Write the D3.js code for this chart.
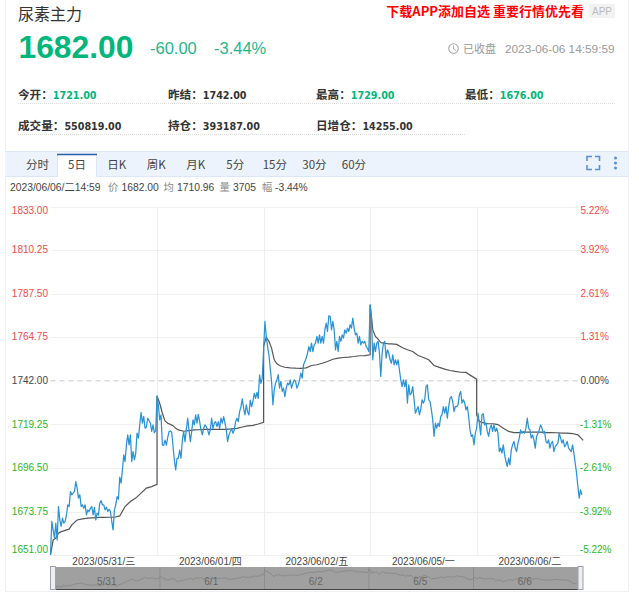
<!DOCTYPE html>
<html><head><meta charset="utf-8">
<script src="https://cdn.jsdelivr.net/npm/d3@7/dist/d3.min.js"></script>
<style>
html,body{margin:0;padding:0;background:#fff}
svg{display:block}
text{font-family:"Liberation Sans",Arial,"Noto Sans CJK SC",sans-serif}
.cjk{font-family:"Noto Sans CJK SC","Liberation Sans",sans-serif}
</style></head><body><div id="c"></div>
<script>
const title="尿素主力";
const lastPrice="1682.00", changeAbs="-60.00", changePct="-3.44%";
const statsRow1=[["今开：","1721.00"],["昨结：","1742.00"],["最高：","1729.00"],["最低：","1676.00"]];
const statsRow2=[["成交量：","550819.00"],["持仓：","393187.00"],["日增仓：","14255.00"]];
const tabs=["分时","5日","日K","周K","月K","5分","15分","30分","60分"];
const dayLabels=["2023/05/31/三","2023/06/01/四","2023/06/02/五","2023/06/05/一","2023/06/06/二"];
const navLabels=["5/31","6/1","6/2","6/5","6/6"];
const priceTicks=[1833,1810.25,1787.5,1764.75,1742,1719.25,1696.5,1673.75,1651];
const pctTicks=["5.22%","3.92%","2.61%","1.31%","0.00%","-1.31%","-2.61%","-3.92%","-5.22%"];
const refPrice=1742;

const priceDay1=[1651.2,1668.6,1664.2,1659.9,1667.7,1659,1676.4,1669.4,1666,1670.3,1667.7,1668.6,1672,1677.3,1676.4,1684.2,1682.5,1683.4,1684.2,1689.4,1686,1680.8,1682.5,1676.4,1677.3,1675.5,1677.3,1672,1674.7,1673.8,1675.5,1676.4,1672,1676,1669.4,1672.9,1672,1678.1,1679.5,1677.3,1677.3,1674.7,1676,1673.8,1675,1673.8,1668.6,1664.2,1674.7,1677.3,1681.6,1680.2,1691.7,1688.6,1695.5,1703.4,1699.9,1708.6,1713.8,1708.6,1713.8,1699.9,1705.1,1700.8,1704.2,1714.7,1712.1,1719,1725.5,1719.9,1723.4,1717.3,1717.8,1722.5,1721.3,1719.9,1715.6,1719,1715,1716];
const priceDay2=[1734.1,1729.4,1721.6,1724.2,1708.5,1708.2,1711.1,1708.5,1712.4,1715.5,1715.8,1715.2,1707.7,1700.7,1695.5,1701.6,1701.6,1705.9,1701.6,1711.1,1715.5,1710.3,1716.4,1722.5,1716.4,1710.3,1715.5,1721.6,1719,1724.2,1719.9,1724.5,1720.7,1716.4,1713.8,1717.2,1719,1718.1,1716.4,1713.8,1716.4,1722.5,1717.2,1719.9,1720.7,1718.1,1720.7,1717.2,1722.5,1719.9,1723.3,1719.9,1716.4,1710.3,1713.8,1715.5,1717.2,1714.6,1716.4,1720.7,1722.5,1720.7,1725.9,1728.5,1732.6,1727.7,1724.2,1729.4,1725.9,1724.2,1732,1728.5,1731.2,1735.5,1732.9,1736,1732.9,1745.1,1740.7,1743.3];
const priceDay3=[1758.2,1773,1765.2,1759.9,1755.6,1748.6,1741.7,1729.5,1737.3,1740.8,1742.5,1745.2,1738.2,1741.7,1736.5,1738.2,1733.8,1738.2,1740.8,1739.9,1742.5,1738.2,1740.8,1742.5,1741.7,1738.2,1739.9,1742.5,1746,1743.4,1750.4,1752.1,1753.9,1756.5,1759.9,1757.3,1761.7,1757.3,1760.8,1761.7,1765.2,1761.7,1766,1761.7,1765.2,1761.7,1768.6,1772.1,1767.8,1776,1775.6,1768.6,1773,1768.6,1758.2,1762.6,1757.3,1765.2,1762.6,1766,1764.3,1768.6,1766.9,1769.5,1767.8,1771.3,1769.5,1774.7,1769.5,1766,1766.9,1761.7,1765.2,1760.8,1762.6,1761.7,1762.6,1759.9,1759,1757.3];
const priceDay4=[1781.7,1775.6,1753,1761.7,1757.3,1761.7,1762.6,1756.5,1744.3,1756.5,1761.7,1762.6,1753.9,1758.2,1756.5,1753,1751.2,1755.6,1750.4,1753,1750.4,1753,1747.8,1742.5,1739,1742.5,1739,1742.5,1730.4,1739.9,1734.7,1735.6,1739,1732.1,1725.1,1726.9,1728.6,1724.3,1726.9,1732.1,1730.4,1732.1,1739,1739.9,1732.1,1731.2,1726.9,1721.7,1713,1719.9,1717.3,1719.9,1718.2,1723.4,1724.3,1728.6,1725.1,1728.6,1722.5,1728.6,1733,1733.8,1731.2,1726,1728.6,1728.6,1729.5,1734.7,1736.5,1730.4,1732.1,1730.4,1726.9,1728.6,1723.4,1716.4,1713,1713.8,1708.6,1714.7];
const priceDay5=[1717.3,1725.1,1719.9,1713.8,1724.3,1724.8,1719,1719.9,1715.6,1713,1717.3,1719,1715.6,1719,1715.6,1717.3,1714.7,1705.1,1706.9,1704.3,1708.6,1703.4,1699.9,1697.3,1701.7,1698.2,1706,1708.6,1710.4,1706.9,1705.1,1709.5,1712.1,1716.4,1714.7,1715.6,1714.7,1717.3,1722.5,1717.3,1716.4,1712.1,1713.8,1711.2,1706.9,1713,1714.7,1716.4,1719,1717.3,1714.7,1715.6,1710.4,1709.5,1711.2,1706.9,1709.5,1710.4,1705.1,1707.7,1708.6,1709.5,1714.7,1712.1,1709.5,1711.2,1707.7,1708.6,1710.4,1706.9,1706,1705.1,1708.6,1704.3,1699,1693.8,1686.9,1680.8,1685.1,1682.5];

const avgOffsets=[0,2,4,6,8,10,12,14,16,20,24,28,32,36,40,44,48,52,56,60,64,68,72,76,80];
const avgDay1=[1651.2,1659,1659.9,1662.5,1663.3,1663.7,1664.2,1664.6,1666.8,1669.4,1670,1670.3,1670.5,1670.7,1670.7,1670.8,1670.8,1671.5,1676.4,1679,1680.8,1683.4,1686,1686.8,1688];
const avgDay2=[1734.1,1730.3,1725.1,1721.1,1719.9,1719.3,1718.6,1717.2,1716.4,1715.7,1716,1716.4,1716.5,1716.7,1716.7,1716.7,1716.7,1716.7,1716.9,1717.2,1717.9,1718.5,1718.8,1719.5,1720.4];
const avgDay3=[1760,1764.8,1762.6,1759.1,1753,1750.9,1750,1749.5,1749.1,1748.8,1748.6,1748.5,1748.8,1750,1750.4,1751.2,1752.1,1753.3,1753.9,1754.2,1754.4,1754.7,1755.1,1755.2,1755.6];
const avgDay4=[1781.7,1768.6,1765.2,1763.8,1762,1761.7,1761.5,1761.3,1761.3,1761,1759.4,1758.2,1757.3,1755.2,1754.2,1753,1750,1749,1748.1,1747.4,1746.9,1746.5,1746.4,1744.6,1742.9];
const avgDay5=[1724.3,1720.8,1720.3,1719.9,1719.7,1719.6,1719.6,1719.4,1719.2,1717.3,1715.6,1715,1715,1715.2,1715.2,1715.2,1715.2,1715,1715,1714.9,1714.7,1714.7,1714.5,1713.8,1710.9];

const W=639,H=600;
const price=[...priceDay1,...priceDay2,...priceDay3,...priceDay4,...priceDay5];
const avgDays=[avgDay1,avgDay2,avgDay3,avgDay4,avgDay5];
const perDay=priceDay1.length;
const avg=avgDays.flatMap((day,d)=>day.map((v,i)=>({t:d*perDay+avgOffsets[i],v})));

const svg=d3.select("#c").append("svg").attr("width",W).attr("height",H);
const x=d3.scaleLinear().domain([0,perDay*5]).range([50.5,583.2]);
const y=d3.scaleLinear().domain([1651,1833]).range([555.2,206.5]);

// frame
svg.append("path").attr("d","M5.5,0V591.5H628.5V0").attr("fill","none").attr("stroke","#eef0f3");

// header
const G="#00b67a",T="#1fb68c";
svg.append("text").attr("class","cjk").attr("x",18).attr("y",20).attr("font-size",16).attr("fill","#333").text(title);
svg.append("text").attr("x",18.5).attr("y",58).attr("font-size",31.8).attr("font-weight","bold").attr("fill",G).text(lastPrice);
svg.append("text").attr("x",150).attr("y",54).attr("font-size",16.5).attr("fill",T).text(changeAbs);
svg.append("text").attr("x",214).attr("y",54).attr("font-size",16.5).attr("fill",T).text(changePct);
svg.append("text").attr("class","cjk").attr("x",584).attr("y",15.5).attr("text-anchor","end").attr("font-size",13).attr("font-weight","bold").attr("fill","#f00").text("下载APP添加自选 重要行情优先看");
svg.append("rect").attr("x",589).attr("y",4).attr("width",26).attr("height",14).attr("fill","#f2f2f2");
svg.append("text").attr("x",602).attr("y",15).attr("text-anchor","middle").attr("font-size",10).attr("fill","#bbb").text("APP");
svg.append("circle").attr("cx",453.5).attr("cy",48.5).attr("r",4.8).attr("fill","none").attr("stroke","#aaa").attr("stroke-width",1.1);
svg.append("path").attr("d","M453.5,45.5V49L456,50.5").attr("fill","none").attr("stroke","#aaa");
svg.append("text").attr("class","cjk").attr("x",463).attr("y",52.5).attr("font-size",11).attr("fill","#999").text("已收盘");
svg.append("text").attr("x",505).attr("y",52.5).attr("font-size",11.8).attr("fill","#999").text("2023-06-06 14:59:59");

// stats
const colX=[18,168,316,465];
function statRow(row,yy,valColor){
  row.forEach((p,i)=>{
    const lw=p[0].length*11.6;
    svg.append("text").attr("class","cjk").attr("x",colX[i]).attr("y",yy).attr("font-size",11.6).attr("font-weight","bold").attr("fill","#333").text(p[0]);
    svg.append("text").attr("x",colX[i]+lw).attr("y",yy).attr("font-size",9.6).attr("font-weight","bold").attr("fill",valColor(i)).style("font-family","'DejaVu Sans'").text(p[1]);
  });
}
statRow(statsRow1,98.5,i=>i===1?"#333":G);
statRow(statsRow2,129.5,()=>"#333");
svg.append("line").attr("x1",18).attr("x2",615).attr("y1",103.5).attr("y2",103.5).attr("stroke","#ddd").attr("stroke-dasharray","1 1");
svg.append("line").attr("x1",18).attr("x2",466).attr("y1",134.5).attr("y2",134.5).attr("stroke","#ddd").attr("stroke-dasharray","1 1");

// tab bar
svg.append("rect").attr("x",6).attr("y",151.5).attr("width",622).attr("height",25).attr("fill","#edf3fc");
svg.append("line").attr("x1",6).attr("x2",628).attr("y1",151.5).attr("y2",151.5).attr("stroke","#dde6f5");
svg.append("line").attr("x1",6).attr("x2",628).attr("y1",176.5).attr("y2",176.5).attr("stroke","#dde6f5");
svg.append("rect").attr("x",57.5).attr("y",154).attr("width",39).attr("height",23).attr("fill","#fff");
svg.append("path").attr("d","M57.5,177V154.5H96.5V177").attr("fill","none").attr("stroke","#dde6f5");
svg.append("line").attr("x1",57).attr("x2",97).attr("y1",154.5).attr("y2",154.5).attr("stroke","#2a5ea8").attr("stroke-width",1.5);
const tabX=d3.scalePoint().domain(tabs).range([37.5,354]);
svg.selectAll(".tab").data(tabs).join("text").attr("class","tab cjk").attr("x",d=>tabX(d)).attr("y",169).attr("text-anchor","middle").attr("font-size",11.5).attr("fill","#444").text(d=>d);
svg.append("path").attr("d","M587,161V156.5H592M595,156.5H599.5V161M599.5,165V169.5H595M592,169.5H587V165").attr("fill","none").attr("stroke","#5b8fd6").attr("stroke-width",1.6);
[158,163,168].forEach(cy=>svg.append("circle").attr("cx",615.5).attr("cy",cy).attr("r",1.5).attr("fill","#5b8fd6"));

// info line
const info=[["2023/06/06/二14:59","#444",10],["价","#888",108],["1682.00","#444",121.5],["均","#888",163.5],["1710.96","#444",177],["量","#888",219.5],["3705","#444",233],["幅","#888",262],["-3.44%","#444",275]];
info.forEach(a=>svg.append("text").attr("class","cjk").style("font-family","'Liberation Sans','Noto Sans CJK SC'").attr("x",a[2]).attr("y",191).attr("font-size",10.3).attr("fill",a[1]).text(a[0]));

// grid
const grid=svg.append("g");
priceTicks.filter(p=>p!==refPrice).forEach(p=>grid.append("line").attr("x1",50.5).attr("x2",583).attr("y1",Math.round(y(p))+.5).attr("y2",Math.round(y(p))+.5).attr("stroke","#f0f0f0"));
d3.range(1,5).forEach(d=>grid.append("line").attr("x1",Math.round(x(d*perDay))+.5).attr("x2",Math.round(x(d*perDay))+.5).attr("y1",206.5).attr("y2",555).attr("stroke","#eee"));
grid.append("line").attr("x1",50.5).attr("x2",583).attr("y1",y(refPrice)).attr("y2",y(refPrice)).attr("stroke","#c8c8c8").attr("stroke-dasharray","5 4");

// axes
const tickColor=p=>p>refPrice?"#f34a4a":p<refPrice?"#1fb81f":"#444";
const shift=p=>p===1833?3:p===1651?-6.2:-1;
const axL=svg.append("g").attr("transform","translate(48,0)").call(d3.axisLeft(y).tickValues(priceTicks).tickSize(0).tickPadding(0).tickFormat(d3.format(".2f")));
axL.select(".domain").remove();
axL.selectAll("text").attr("font-size",10).attr("font-family","Liberation Sans").attr("fill",d=>tickColor(d)).attr("dy",d=>(shift(d)+3.6)+"px");
const axR=svg.append("g").attr("transform","translate(0,0)").call(d3.axisRight(y).tickValues(priceTicks).tickSize(0).tickPadding(0).tickFormat((d,i)=>pctTicks[i]));
axR.select(".domain").remove();
axR.selectAll("text").attr("text-anchor","end").attr("x",d=>d<refPrice?611.5:608.8).attr("font-size",10).attr("font-family","Liberation Sans").attr("fill",d=>tickColor(d)).attr("dy",d=>(shift(d)+3.6)+"px");
const xDays=d3.scaleBand().domain(dayLabels).range([x(0),x(perDay*5)]);
const axB=svg.append("g").attr("transform","translate(0,556)").call(d3.axisBottom(xDays).tickSize(0).tickPadding(0));
axB.select(".domain").remove();
axB.selectAll("text").attr("font-size",10).attr("font-family","Liberation Sans, Noto Sans CJK SC").attr("fill","#444").attr("y",0).attr("dy","9.2px");

// series
const line=d3.line().x(d=>x(d.t)).y(d=>y(d.v));
const pts=price.map((v,t)=>({t,v}));
svg.append("path").datum(avg).attr("d",line).attr("fill","none").attr("stroke","#555").attr("stroke-width",1.2);
svg.append("path").datum(pts).attr("d",line).attr("fill","none").attr("stroke","#2a93d5").attr("stroke-width",1.25).attr("stroke-linejoin","round");

// navigator
const navX=d3.scaleLinear().domain([0,perDay*5]).range([55.5,578]);
const navY=d3.scaleLinear().domain([1651,1782]).range([588.5,569]);
svg.append("rect").attr("x",50.5).attr("y",567).attr("width",532.5).attr("height",22.5).attr("fill","#a0a0a0");
d3.range(1,5).forEach(d=>svg.append("line").attr("x1",navX(d*perDay)).attr("x2",navX(d*perDay)).attr("y1",567).attr("y2",589).attr("stroke","#8d8d8d"));
svg.append("path").datum(pts).attr("d",d3.line().x(d=>navX(d.t)).y(d=>navY(d.v))).attr("fill","none").attr("stroke","#8a8a8a");
svg.selectAll(".nl").data(navLabels).join("text").attr("class","nl").attr("x",(d,i)=>navX((i+.5)*perDay)-1).attr("y",585).attr("text-anchor","middle").attr("font-size",10).attr("fill","#666").text(d=>d);
svg.append("line").attr("x1",55).attr("x2",578).attr("y1",589.5).attr("y2",589.5).attr("stroke","#444");
[[50.5,55.5],[578,583]].forEach(h=>svg.append("rect").attr("x",h[0]).attr("y",566.5).attr("width",h[1]-h[0]).attr("height",23).attr("fill","#eee").attr("stroke","#9aa0b8"));
</script></body></html>
